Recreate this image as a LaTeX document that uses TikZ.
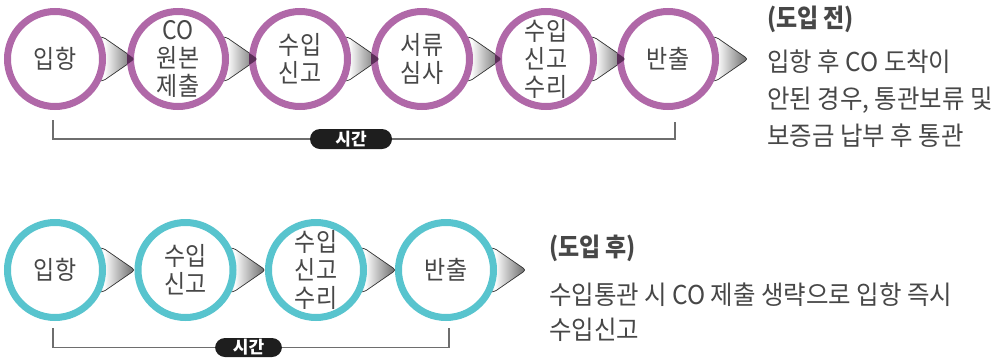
\documentclass[tikz,border=0pt]{standalone}
\usepackage{fontspec}
\setmainfont{Noto Sans CJK KR}
\newfontfamily\kr[FakeStretch=0.9]{Noto Sans CJK KR}
\newfontfamily\krw[FakeStretch=0.94]{Noto Sans CJK KR}
\usetikzlibrary{calc}
\definecolor{ringP}{HTML}{B068A8}
\definecolor{ringC}{HTML}{58C4CE}
\definecolor{tipP}{HTML}{5C2E59}
\definecolor{txt}{HTML}{474747}
\definecolor{pill}{HTML}{1E1E1E}
\definecolor{lineg}{HTML}{6E6E6E}
\pgfdeclarehorizontalshading{arrowshade}{100bp}{color(0bp)=(black!20); color(25bp)=(black!20); color(36bp)=(white); color(75bp)=(black!60); color(100bp)=(black!60)}
\tikzset{
  stage/.style={circle, line width=7pt, fill=white, minimum size=95pt, inner sep=0pt,
    align=center, text=txt, font=\kr\fontsize{25.5}{28}\selectfont},
  stageP/.style={stage, draw=ringP},
  stageC/.style={stage, draw=ringC},
  arrowbody/.style={shading=arrowshade, rounded corners=3pt},
  arrowedge/.style={draw=black!80, line width=0.7pt, rounded corners=3pt},
  timeline/.style={draw=lineg, line width=1.3pt},
  timepill/.style={fill=pill, rounded corners=10pt, text=white, minimum width=82pt, minimum height=20pt, inner sep=0pt, font=\bfseries\fontsize{17}{17}\selectfont},
  headtxt/.style={anchor=west, text=txt, font=\bfseries\kr\fontsize{25.5}{28}\selectfont, inner sep=0pt},
  bodytxt/.style={anchor=north west, align=left, text=txt, inner sep=0pt},
}
\newcommand{\stagearrow}[1]{%
  \shade[arrowbody] ($(#1)+(40,-22)$) -- ($(#1)+(48,-22)$) -- ($(#1)+(80,0)$) -- ($(#1)+(48,22)$) -- ($(#1)+(40,22)$) -- cycle;
  \draw[arrowedge] ($(#1)+(40,-22)$) -- ($(#1)+(48,-22)$) -- ($(#1)+(80,0)$) -- ($(#1)+(48,22)$) -- ($(#1)+(40,22)$);
}
\newcommand{\arrowtip}[2]{%
  \begin{scope}
    \clip (#2) circle (51);
    \fill[tipP, rounded corners=3pt] ($(#1)+(48,-22)$) -- ($(#1)+(80,0)$) -- ($(#1)+(48,22)$) -- cycle;
  \end{scope}
}
\begin{document}
\begin{tikzpicture}[x=1pt, y=-1pt]
\useasboundingbox (0,0) rectangle (1002,357);
% ---------- top row: coordinates ----------
\coordinate (p1) at (55,59);
\coordinate (p2) at (178,59);
\coordinate (p3) at (300,59);
\coordinate (p4) at (422,59);
\coordinate (p5) at (546,59);
\coordinate (p6) at (668,59);
% arrows behind
\foreach \p in {p1,p2,p3,p4,p5,p6}{\stagearrow{\p}}
% circles
\node[stageP] (a1) at (p1) {입항};
\node[stageP] (a2) at (p2) {CO\\원본\\제출};
\node[stageP] (a3) at (p3) {수입\\신고};
\node[stageP] (a4) at (p4) {서류\\심사};
\node[stageP] (a5) at (p5) {수입\\신고\\수리};
\node[stageP] (a6) at (p6) {반출};
% arrow tips over next ring
\arrowtip{a1.center}{a2.center}
\arrowtip{a2.center}{a3.center}
\arrowtip{a3.center}{a4.center}
\arrowtip{a4.center}{a5.center}
\arrowtip{a5.center}{a6.center}
% time line top
\node[timepill] (t1) at (351,139) {시간};
\coordinate (ta) at ($(a1.center)+(-2,61)$);
\coordinate (tb) at ($(a6.center)+(7,63)$);
\draw[timeline] (ta) |- (t1.west);
\draw[timeline] (t1.east) -| (tb);
% text top
\node[headtxt] (h1) at (767,19) {(도입 전)};
\node[bodytxt, font=\krw\fontsize{26}{37}\selectfont] (b1) at (767,50) {입항 후 CO 도착이\\안된 경우, 통관보류 및\\보증금 납부 후 통관};
% ---------- bottom row ----------
\coordinate (q1) at (55,270);
\coordinate (q2) at (185.5,270);
\coordinate (q3) at (316,270);
\coordinate (q4) at (446,270);
\foreach \p in {q1,q2,q3,q4}{\stagearrow{\p}}
\node[stageC] (c1) at (q1) {입항};
\node[stageC] (c2) at (q2) {수입\\신고};
\node[stageC] (c3) at (q3) {수입\\신고\\수리};
\node[stageC] (c4) at (q4) {반출};
\node[timepill, minimum width=67pt, minimum height=19pt] (t2) at (248.5,347.5) {시간};
\coordinate (tc) at ($(c1.center)+(-2,58)$);
\coordinate (td) at ($(c4.center)+(3,58)$);
\draw[timeline] (tc) |- (t2.west);
\draw[timeline] (t2.east) -| (td);
\node[headtxt] (h2) at (549,248) {(도입 후)};
\node[bodytxt, font=\krw\fontsize{26}{35}\selectfont] (b2) at (549,283) {수입통관 시 CO 제출 생략으로 입항 즉시\\수입신고};
\end{tikzpicture}
\end{document}
